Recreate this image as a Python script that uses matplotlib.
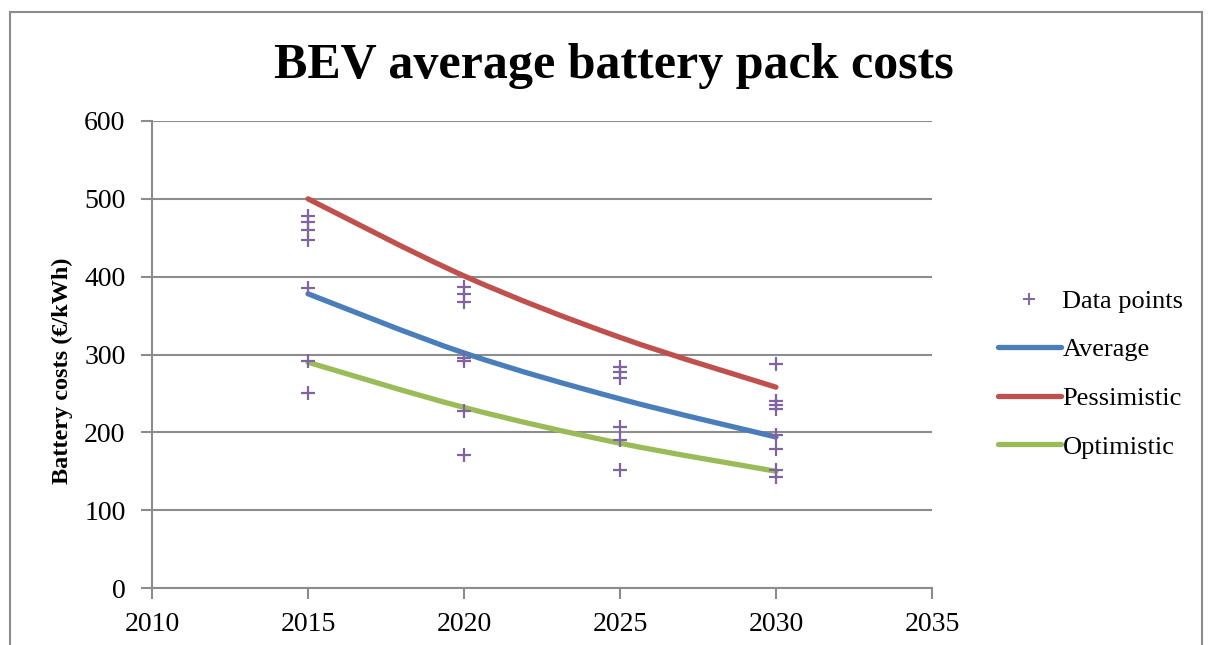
import numpy as np
import matplotlib
matplotlib.use("Agg")
from matplotlib import pyplot as plt
from matplotlib.path import Path
from matplotlib.patches import PathPatch, Rectangle
from matplotlib.lines import Line2D

# scatter of individual cost estimates
point_years = [2015] * 7 + [2020] * 7 + [2025] * 6 + [2030] * 8
point_costs = [478, 470, 460, 447, 386, 292, 250,
               387, 378, 368, 295, 292, 227, 171,
               284, 277, 270, 207, 190, 152,
               288, 240, 235, 230, 197, 178, 151, 142]

# scenario curves
years = [2015, 2020, 2025, 2030]
average = [378, 302, 243, 194]
pessimistic = [500, 401, 322, 258]
optimistic = [290, 232, 186, 150]

plt.rcParams['font.family'] = ['Liberation Serif', 'DejaVu Serif']

W, H = 1212, 645
fig = plt.figure(figsize=(W / 100, H / 100), dpi=100)
ax = fig.add_axes([152 / W, 1 - 588 / H, (932 - 152) / W, (588 - 121) / H])

# chart frame (bottom edge runs off the image)
fig.patches.append(Rectangle((10 / W, -0.1), (1202 - 10) / W, 1.1 - 12 / H,
                             transform=fig.transFigure, fill=False,
                             edgecolor='#8c8c8c', linewidth=1.5))


def smooth_path(xs, ys, t=1 / 6):
    # Bezier segments with Catmull-Rom style control points
    pts = list(zip(xs, ys))
    verts = [pts[0]]
    codes = [Path.MOVETO]
    n = len(pts)
    for i in range(n - 1):
        p0 = pts[i - 1] if i > 0 else pts[i]
        p1, p2 = pts[i], pts[i + 1]
        p3 = pts[i + 2] if i + 2 < n else pts[i + 1]
        c1 = (p1[0] + (p2[0] - p0[0]) * t, p1[1] + (p2[1] - p0[1]) * t)
        c2 = (p2[0] - (p3[0] - p1[0]) * t, p2[1] - (p3[1] - p1[1]) * t)
        verts += [c1, c2, p2]
        codes += [Path.CURVE4] * 3
    return Path(verts, codes)


ax.plot(point_years, point_costs, linestyle='none', marker='+',
        color='#8064A2', markersize=10, markeredgewidth=1.6, zorder=4)

series = [(average, '#4A7EBB', 'Average'),
          (pessimistic, '#C0504D', 'Pessimistic'),
          (optimistic, '#9BBB59', 'Optimistic')]
for vals, col, name in series:
    ax.add_patch(PathPatch(smooth_path(years, vals), fill=False,
                           edgecolor=col, linewidth=3.8,
                           capstyle='round', zorder=3))

ax.set_xlim(2010, 2035)
ax.set_ylim(0, 600)
ax.set_xticks(range(2010, 2036, 5))
ax.set_yticks(range(0, 601, 100))
ax.yaxis.grid(True, color='#8c8c8c', linewidth=1.5)
ax.set_axisbelow(True)
for s in ['top', 'right']:
    ax.spines[s].set_visible(False)
for s in ['left', 'bottom']:
    ax.spines[s].set_color('#8c8c8c')
    ax.spines[s].set_linewidth(1.5)
ax.tick_params(axis='both', direction='out', length=8, width=1.5,
               color='#8c8c8c', labelsize=20)
ax.tick_params(axis='y', pad=11)
ax.tick_params(axis='x', pad=9)

fig.text(62 / W, 1 - 371 / H, 'Battery costs (€/kWh)', fontsize=17.5,
         fontweight='bold', rotation=90, ha='center', va='center')
fig.text(614 / W, 1 - 66 / H, 'BEV average battery pack costs',
         fontsize=36, fontweight='bold', ha='center', va='center')

handles = [Line2D([], [], linestyle='none', marker='+', color='#8064A2',
                  markersize=9, markeredgewidth=1.4)]
handles += [Line2D([], [], color=c, linewidth=3.8, solid_capstyle='round')
            for _, c, _ in series]
labels = ['Data points'] + [n for _, _, n in series]
fig.legend(handles, labels, loc='center left',
           bbox_to_anchor=(974 / W, 1 - 374 / H), frameon=False,
           fontsize=19, handlelength=2.4, handletextpad=0.05,
           labelspacing=0.95)

fig.savefig('out.png', dpi=100)
